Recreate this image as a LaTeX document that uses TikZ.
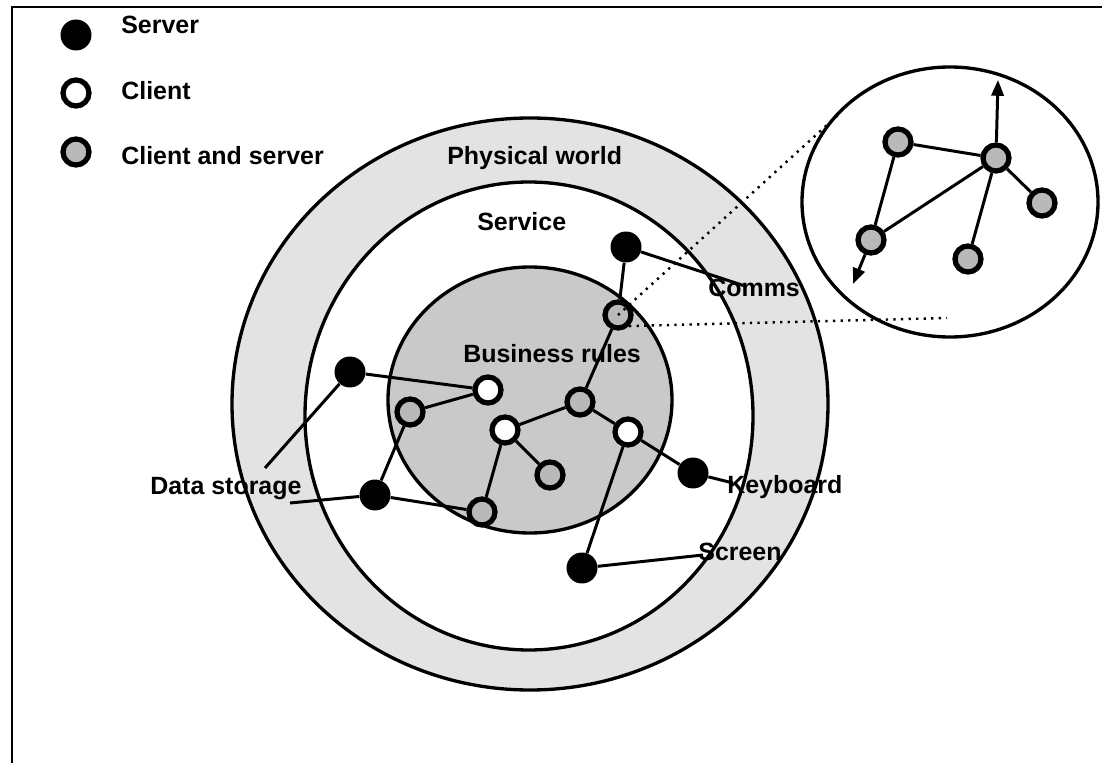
\documentclass[tikz,border=0pt]{standalone}
\usepackage{fontspec}
\setmainfont{Liberation Sans}
\usetikzlibrary{arrows.meta}

\begin{document}
\begin{tikzpicture}[x=0.02cm, y=-0.02cm]
        \tikzstyle{server}=[shape=circle, fill=black, inner sep=0cm, minimum size=0.62cm]
        \tikzstyle{client}=[shape=circle, draw, line width=3pt, fill=white, inner sep=0cm, minimum size=0.52cm]
        \tikzstyle{both}=[client, fill=gray!55]
        \tikzstyle{lbl}=[font=\fontsize{14.2}{16}\selectfont\bfseries, inner sep=0pt, anchor=base west]
        \tikzstyle{link}=[line width=1.7pt]
        \tikzstyle{ring}=[line width=1.9pt]

        \useasboundingbox (0,0) rectangle (1102,763);

        % frame on the left and on top
        \draw[line width=1.3pt] (12,763) -- (12,7) -- (1102,7);

        % legend
        \node[server] (lserver) at (76,35) {};
        \node[client] (lclient) at (76,93) {};
        \node[both] (lboth) at (76,152) {};
        \node[lbl] (tserver) at (121,34) {Server};
        \node[lbl] (tclient) at (121,100) {Client};
        \node[lbl] (tboth) at (121,165) {Client and server};

        % the three layers
        \draw[ring, fill=gray!22] (530,404) ellipse [x radius=298, y radius=286];
        \draw[ring, fill=white] (529,416) ellipse [x radius=224, y radius=234];
        \draw[ring, fill=gray!42] (530,400) ellipse [x radius=142, y radius=133];

        \node[lbl] (physical) at (447,165) {Physical world};
        \node[lbl] (service) at (477,231) {Service};
        \node[lbl] (rules) at (463,363) {Business rules};

        % the zoomed view
        \draw[ring, fill=white] (950,202) ellipse [x radius=148, y radius=135];

        % nodes of the network
        \node[server] (s1) at (626,247) {};
        \node[server] (s2) at (350,372) {};
        \node[server] (s3) at (375,495) {};
        \node[server] (s4) at (693,473) {};
        \node[server] (s5) at (582,568) {};
        \node[client] (c1) at (488,390) {};
        \node[client] (c2) at (505,430) {};
        \node[client] (c3) at (628,432) {};
        \node[both] (g1) at (618,315) {};
        \node[both] (g2) at (410,412) {};
        \node[both] (g3) at (580,402) {};
        \node[both] (g4) at (550,475) {};
        \node[both] (g5) at (482,512) {};

        % links between them
        \draw[link] (s1) -- (g1);
        \draw[link] (g1) -- (g3);
        \draw[link] (g3) -- (c2);
        \draw[link] (g3) -- (c3);
        \draw[link] (c2) -- (g4);
        \draw[link] (c2) -- (g5);
        \draw[link] (s2) -- (c1);
        \draw[link] (g2) -- (c1);
        \draw[link] (g2) -- (s3);
        \draw[link] (s3) -- (g5);
        \draw[link] (c3) -- (s4);
        \draw[link] (c3) -- (s5);

        % links to the outside world
        \coordinate (ecomms) at (745,286);
        \coordinate (estore1) at (265,468);
        \coordinate (estore2) at (290,503);
        \coordinate (ekey) at (733,483);
        \coordinate (escreen) at (703,555);
        \draw[link] (s1) -- (ecomms);
        \draw[link] (s2) -- (estore1);
        \draw[link] (s3) -- (estore2);
        \draw[link] (s4) -- (ekey);
        \draw[link] (s5) -- (escreen);

        \node[lbl] (comms) at (708,297) {Comms};
        \node[lbl] (storage) at (150,494) {Data storage};
        \node[lbl] (keyboard) at (727,493) {Keyboard};
        \node[lbl] (screen) at (698,560) {Screen};

        % dotted lines from the node to its zoomed view
        \coordinate (zup) at (838,115);
        \coordinate (zright) at (947,318);
        \draw[line width=1.4pt, dash pattern=on 1.3pt off 3pt] (g1.center) -- (zup);
        \draw[line width=1.4pt, dash pattern=on 1.3pt off 3pt] (g1.south east) -- (zright);

        % inside the zoomed view
        \node[both] (z1) at (898,142) {};
        \node[both] (z2) at (996,158) {};
        \node[both] (z3) at (1042,203) {};
        \node[both] (z4) at (871,240) {};
        \node[both] (z5) at (968,259) {};
        \coordinate (zout1) at (998,80);
        \coordinate (zout2) at (853,284);

        \foreach \a/\b in {z1/z2, z1/z4, z4/z2, z2/z3, z2/z5}
          \draw[link] (\a) -- (\b);
        \draw[link, -{Triangle[length=9pt, width=7pt]}] (z2) -- (zout1);
        \draw[link, -{Triangle[length=9pt, width=7pt]}] (z4) -- (zout2);
\end{tikzpicture}
\end{document}
